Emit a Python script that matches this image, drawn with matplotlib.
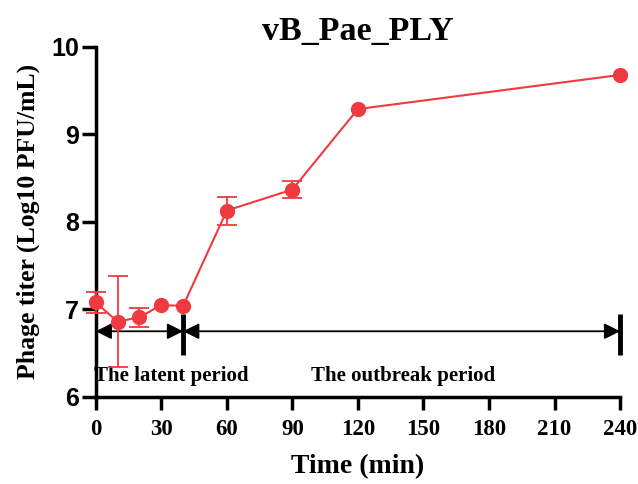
import numpy as np
import matplotlib.pyplot as plt

# one-step growth curve values
time_min = [0, 10, 20, 30, 40, 60, 90, 120, 240]
titer = [7.08, 6.86, 6.91, 7.05, 7.04, 8.13, 8.37, 9.29, 9.68]
titer_sd = [0.12, 0.52, 0.11, 0.0, 0.0, 0.16, 0.10, 0.0, 0.0]
x_ticks = [0, 30, 60, 90, 120, 150, 180, 210, 240]
y_ticks = [6, 7, 8, 9, 10]

red = '#EF3A3F'
serif = 'Liberation Serif'
sans = 'Liberation Sans'

fig = plt.figure(figsize=(6.38, 4.84), dpi=100)
ax = fig.add_axes([0.150, 0.180, 0.822, 0.723])

ax.plot(time_min, titer, color=red, lw=1.5, marker='o', markersize=10,
        markeredgecolor=red, markerfacecolor=red, clip_on=False, zorder=5)
# only the points with a visible spread get error bars
has_err = [i for i, s in enumerate(titer_sd) if s > 0]
ax.errorbar([time_min[i] for i in has_err], [titer[i] for i in has_err],
            yerr=[titer_sd[i] for i in has_err], fmt='none', ecolor=red,
            elinewidth=1.3, capsize=7, capthick=1.3, clip_on=False, zorder=4)

ax.set_xlim(0, 240)
ax.set_ylim(6, 10)
ax.set_xticks(x_ticks)
ax.set_yticks(y_ticks)
ax.set_xticklabels([str(t) for t in x_ticks], fontfamily=serif,
                   fontweight='bold', fontsize=16.5)
ax.set_yticklabels([str(t) for t in y_ticks], fontfamily=sans,
                   fontweight='bold', fontsize=18)
ax.tick_params(width=2.5, direction='out')
ax.tick_params(axis='x', length=9, pad=7)
ax.tick_params(axis='y', length=10, pad=2)

for side in ['top', 'right']:
    ax.spines[side].set_visible(False)
for side in ['left', 'bottom']:
    ax.spines[side].set_linewidth(2.5)

ax.set_title('vB_Pae_PLY', fontfamily=serif, fontweight='bold',
             fontsize=24.5, pad=5)
ax.set_xlabel('Time (min)', fontfamily=serif, fontweight='bold',
              fontsize=20, labelpad=10)
ax.set_ylabel('Phage titer (Log10 PFU/mL)', fontfamily=serif,
              fontweight='bold', fontsize=18.5, labelpad=8)

# latent / outbreak period markers
arrow_y = 6.75
arrowprops = dict(arrowstyle='<|-|>', color='black', lw=1.3,
                  mutation_scale=24, shrinkA=0, shrinkB=0)
ax.annotate('', xy=(40, arrow_y), xytext=(0, arrow_y),
            arrowprops=arrowprops, annotation_clip=False)
ax.annotate('', xy=(240, arrow_y), xytext=(40, arrow_y),
            arrowprops=arrowprops, annotation_clip=False)
ax.plot([40, 40], [6.48, 6.95], color='black', lw=3.5, solid_capstyle='butt')
ax.plot([240, 240], [6.48, 6.95], color='black', lw=3.5,
        solid_capstyle='butt', clip_on=False)

ax.text(34.8, 6.24, 'The latent period', fontfamily=serif,
        fontweight='bold', fontsize=15, ha='center', va='center')
ax.text(140.6, 6.24, 'The outbreak period', fontfamily=serif,
        fontweight='bold', fontsize=15, ha='center', va='center')

fig.savefig('out.png', dpi=100)
